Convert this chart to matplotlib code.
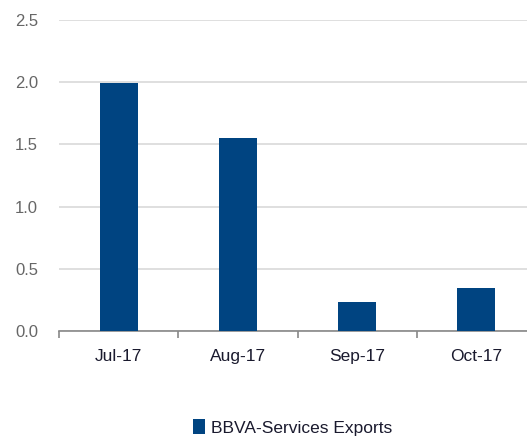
import matplotlib
matplotlib.use("Agg")
import matplotlib.pyplot as plt
import numpy as np

categories = ["Jul-17", "Aug-17", "Sep-17", "Oct-17"]
exports = [1.99, 1.55, 0.235, 0.345]
series_name = "BBVA-Services Exports"

plt.rcParams["font.family"] = ["Liberation Sans", "DejaVu Sans"]

fig = plt.figure(figsize=(5.27, 4.38), dpi=100)
ax = fig.add_axes([59 / 527, 107 / 438, 477 / 527, 311 / 438])

x = np.arange(len(categories))
ax.bar(x, exports, width=0.32, color="#004481", label=series_name, zorder=3)

ax.set_xlim(-0.5, len(categories) - 0.5)
ax.set_ylim(0, 2.5)
ax.set_yticks(np.arange(0, 2.51, 0.5))
ax.set_yticklabels([f"{v:.1f}" for v in np.arange(0, 2.51, 0.5)])
ax.yaxis.grid(True, color="#d9d9d9", linewidth=1.2, zorder=0)
ax.tick_params(axis="y", length=0, pad=15, labelsize=12, labelcolor="#666666")

ax.set_xticks(x)
ax.set_xticklabels(categories)
ax.set_xticks(np.arange(-0.5, len(categories)), minor=True)
ax.tick_params(axis="x", which="major", length=0, pad=13, labelsize=12.5, labelcolor="#1a1a2e")
ax.tick_params(axis="x", which="minor", length=5, width=1.2, color="#888888", direction="out")

for side in ["top", "right", "left"]:
    ax.spines[side].set_visible(False)
ax.spines["bottom"].set_color("#888888")
ax.spines["bottom"].set_linewidth(1.2)

fig.legend(loc="lower center", bbox_to_anchor=(0.555, -0.03), frameon=False,
           fontsize=12.5, handlelength=0.7, handleheight=0.9, handletextpad=0.3,
           labelcolor="#1a1a2e")

fig.savefig("out.png", dpi=100)
